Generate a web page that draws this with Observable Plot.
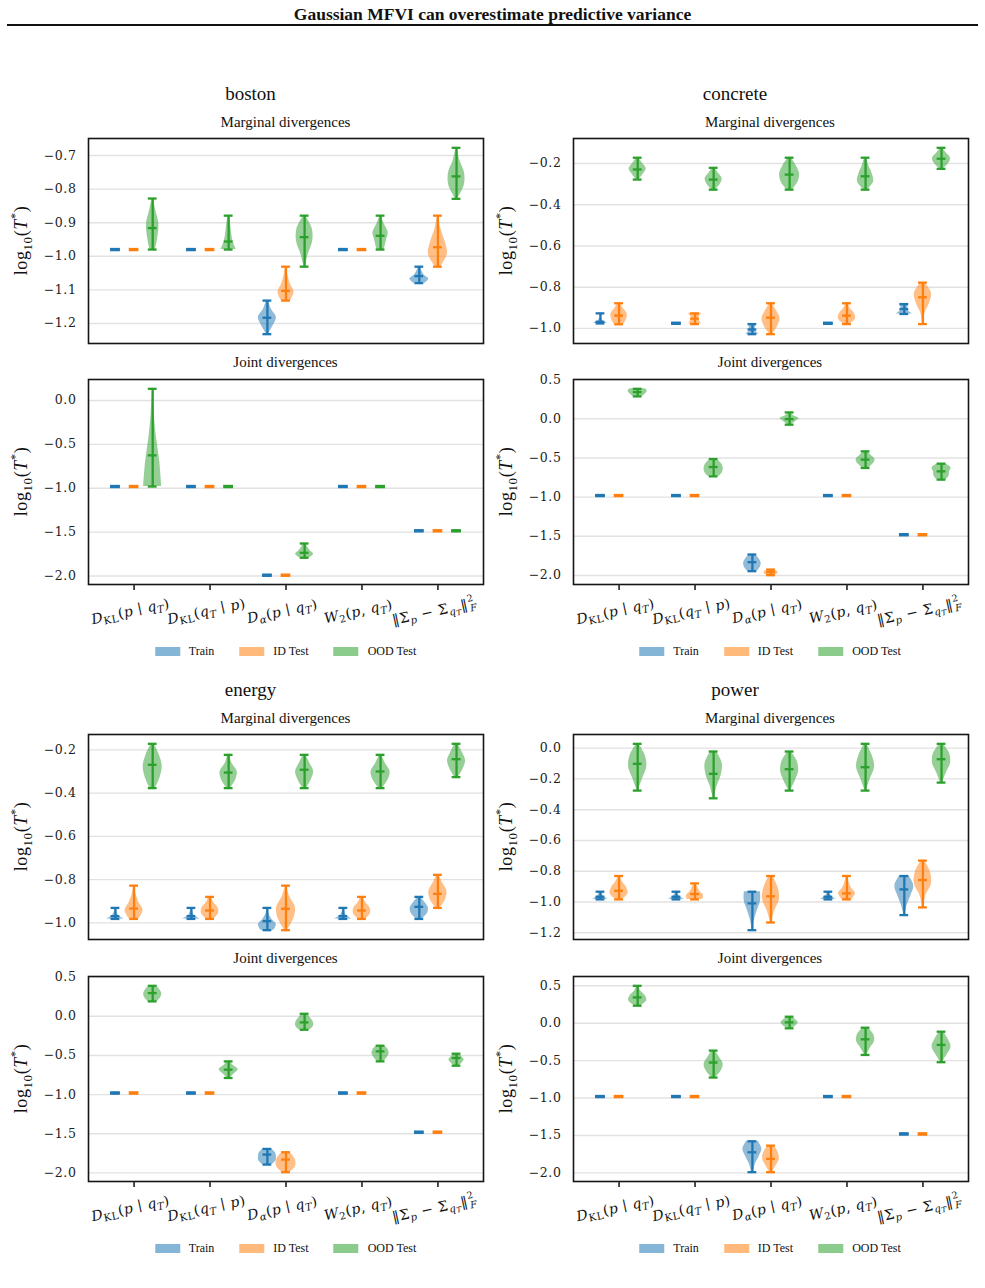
<!DOCTYPE html>
<html>
<head>
<meta charset="utf-8">
<script src="https://cdn.jsdelivr.net/npm/d3@7"></script>
<script src="https://cdn.jsdelivr.net/npm/@observablehq/plot@0.6"></script>
<style>
  html, body { margin: 0; padding: 0; background: #fff; }
  body { width: 985px; height: 1288px; position: relative; overflow: hidden; font-family: "Liberation Serif", "Times New Roman", serif; color: #111; }
  .abs { position: absolute; white-space: nowrap; }
  #title { left: 0; width: 985px; top: 4px; text-align: center; font-weight: bold; font-size: 17.5px; }
  #rule { left: 7px; width: 971px; top: 24px; height: 2px; background: #111; }
  .dsname { font-size: 19px; transform: translateX(-50%); }
  .sub { font-size: 15px; transform: translateX(-50%); }
  .legend { display: flex; align-items: center; transform: translateX(-50%); font-size: 12px; }
  .legend .sw { width: 25px; height: 9px; margin-right: 9px; }
  .legend .lab { margin-right: 25px; }
  .legend .lab:last-child { margin-right: 0; }
  svg { overflow: visible; }
</style>
</head>
<body>
<div class="abs" id="title">Gaussian MFVI can overestimate predictive variance</div>
<div class="abs" id="rule"></div>
<script>
// Datasets, divergence measures and data splits
const datasets = ["boston", "concrete", "energy", "power"];
const splits = ["Train", "ID Test", "OOD Test"];
const splitColors = ["#1f77b4", "#ff7f0e", "#2ca02c"];

// x tick labels as [text, style] runs: "" upright, "i" italic, "sub"/"subsub" subscripts, "sup" superscript, "subback" subscript under the superscript
const divergenceLabels = [
  [["D", "i"], ["KL", "sub"], ["(", ""], ["p", "i"], [" ∣ ", ""], ["q", "i"], ["T", "subi"], [")", ""]],
  [["D", "i"], ["KL", "sub"], ["(", ""], ["q", "i"], ["T", "subi"], [" ∣ ", ""], ["p", "i"], [")", ""]],
  [["D", "i"], ["α", "subi"], ["(", ""], ["p", "i"], [" ∣ ", ""], ["q", "i"], ["T", "subi"], [")", ""]],
  [["W", "i"], ["2", "sub"], ["(", ""], ["p", "i"], [", ", ""], ["q", "i"], ["T", "subi"], [")", ""]],
  [["‖Σ", ""], ["p", "subi"], [" − Σ", ""], ["q", "subi"], ["T", "subsub"], ["‖", ""], ["2", "sup"], ["F", "subback"]]
];
const yTitle = [["log", ""], ["10", "sub"], ["(", ""], ["T", "i"], ["*", "sup"], [")", ""]];

// Each row: [min, median, max, density profile from min to max (relative width)]
// Rows are ordered by divergence, then split (Train, ID Test, OOD Test).
const bostonMarginal = [
  [-0.98, -0.98, -0.98, null],
  [-0.98, -0.98, -0.98, null],
  [-0.98, -0.916, -0.828, [0.3, 0.55, 0.65, 0.35, 0.05]],
  [-0.98, -0.98, -0.98, null],
  [-0.98, -0.98, -0.98, null],
  [-0.98, -0.956, -0.879, [0.8, 0.45, 0.3, 0.2, 0.05]],
  [-1.232, -1.183, -1.132, [0.1, 0.6, 0.95, 0.4, 0.1]],
  [-1.132, -1.103, -1.031, [0.5, 0.85, 0.45, 0.2, 0.08]],
  [-1.031, -0.943, -0.879, [0.05, 0.4, 0.85, 0.8, 0.1]],
  [-0.98, -0.98, -0.98, null],
  [-0.98, -0.98, -0.98, null],
  [-0.98, -0.939, -0.879, [0.4, 0.6, 0.8, 0.4, 0.05]],
  [-1.08, -1.059, -1.031, [0.6, 1.0, 0.5, 0.25, 0.1]],
  [-1.031, -0.973, -0.879, [0.3, 1.0, 0.75, 0.3, 0.05]],
  [-0.829, -0.762, -0.677, [0.1, 0.8, 0.85, 0.35, 0.05]]
];
const bostonJoint = [
  [-0.98, -0.98, -0.98, null],
  [-0.98, -0.98, -0.98, null],
  [-0.98, -0.625, 0.133, [0.95, 0.75, 0.4, 0.15, 0.03]],
  [-0.98, -0.98, -0.98, null],
  [-0.98, -0.98, -0.98, null],
  [-0.98, -0.98, -0.98, null],
  [-1.99, -1.99, -1.99, null],
  [-1.99, -1.99, -1.99, null],
  [-1.792, -1.735, -1.629, [0.5, 0.95, 0.6, 0.3, 0.2]],
  [-0.98, -0.98, -0.98, null],
  [-0.98, -0.98, -0.98, null],
  [-0.98, -0.98, -0.98, null],
  [-1.485, -1.485, -1.485, null],
  [-1.485, -1.485, -1.485, null],
  [-1.485, -1.485, -1.485, null]
];
const concreteMarginal = [
  [-0.976, -0.968, -0.927, [0.8, 0.3, 0.1, 0.05, 0.05]],
  [-0.98, -0.938, -0.878, [0.5, 0.8, 0.85, 0.45, 0.1]],
  [-0.278, -0.229, -0.172, [0.15, 0.6, 0.9, 0.5, 0.1]],
  [-0.975, -0.975, -0.975, null],
  [-0.979, -0.953, -0.927, [0.7, 0.5, 0.35, 0.5, 0.7]],
  [-0.327, -0.278, -0.221, [0.2, 0.7, 0.9, 0.5, 0.1]],
  [-1.028, -1.005, -0.979, [0.7, 0.4, 0.3, 0.35, 0.4]],
  [-1.028, -0.948, -0.878, [0.15, 0.7, 0.95, 0.6, 0.1]],
  [-0.327, -0.254, -0.172, [0.3, 0.9, 1.05, 0.7, 0.15]],
  [-0.975, -0.975, -0.975, null],
  [-0.979, -0.938, -0.878, [0.3, 0.9, 0.8, 0.35, 0.1]],
  [-0.327, -0.262, -0.172, [0.2, 0.85, 0.7, 0.35, 0.1]],
  [-0.93, -0.906, -0.882, [0.85, 0.5, 0.35, 0.4, 0.5]],
  [-0.979, -0.849, -0.778, [0.05, 0.2, 0.7, 0.9, 0.2]],
  [-0.226, -0.177, -0.124, [0.2, 0.75, 0.95, 0.5, 0.1]]
];
const concreteJoint = [
  [-0.98, -0.98, -0.98, null],
  [-0.98, -0.98, -0.98, null],
  [0.285, 0.34, 0.382, [0.5, 0.75, 0.95, 1.0, 0.8]],
  [-0.98, -0.98, -0.98, null],
  [-0.98, -0.98, -0.98, null],
  [-0.735, -0.616, -0.514, [0.6, 0.95, 1.0, 0.8, 0.3]],
  [-1.945, -1.83, -1.732, [0.5, 0.85, 0.92, 0.7, 0.3]],
  [-1.996, -1.958, -1.924, [0.4, 0.7, 0.75, 0.6, 0.3]],
  [-0.076, -0.004, 0.081, [0.15, 0.6, 1.0, 0.4, 0.1]],
  [-0.98, -0.98, -0.98, null],
  [-0.98, -0.98, -0.98, null],
  [-0.628, -0.522, -0.416, [0.3, 0.8, 1.0, 0.6, 0.2]],
  [-1.48, -1.48, -1.48, null],
  [-1.48, -1.48, -1.48, null],
  [-0.777, -0.671, -0.573, [0.5, 0.8, 0.85, 1.0, 0.4]]
];
const energyMarginal = [
  [-0.982, -0.969, -0.931, [0.95, 0.4, 0.2, 0.1, 0.05]],
  [-0.982, -0.934, -0.828, [0.5, 0.95, 0.5, 0.2, 0.05]],
  [-0.377, -0.269, -0.172, [0.3, 0.8, 1.0, 0.7, 0.15]],
  [-0.982, -0.969, -0.931, [0.95, 0.4, 0.2, 0.1, 0.05]],
  [-0.982, -0.943, -0.88, [0.4, 0.9, 0.85, 0.4, 0.1]],
  [-0.377, -0.305, -0.223, [0.2, 0.75, 0.9, 0.35, 0.1]],
  [-1.034, -0.992, -0.931, [0.7, 0.95, 0.45, 0.15, 0.05]],
  [-1.034, -0.935, -0.828, [0.15, 0.8, 1.0, 0.4, 0.05]],
  [-0.377, -0.292, -0.223, [0.2, 0.7, 0.95, 0.55, 0.1]],
  [-0.982, -0.969, -0.931, [0.95, 0.4, 0.2, 0.1, 0.05]],
  [-0.982, -0.943, -0.88, [0.4, 0.9, 0.85, 0.4, 0.1]],
  [-0.377, -0.3, -0.223, [0.2, 0.8, 1.0, 0.5, 0.1]],
  [-0.982, -0.926, -0.88, [0.3, 0.85, 0.95, 0.6, 0.1]],
  [-0.931, -0.866, -0.778, [0.2, 0.8, 0.95, 0.5, 0.1]],
  [-0.326, -0.243, -0.172, [0.2, 0.7, 0.95, 0.6, 0.15]]
];
const energyJoint = [
  [-0.98, -0.98, -0.98, null],
  [-0.98, -0.98, -0.98, null],
  [0.19, 0.296, 0.389, [0.5, 0.85, 0.95, 0.75, 0.35]],
  [-0.98, -0.98, -0.98, null],
  [-0.98, -0.98, -0.98, null],
  [-0.788, -0.682, -0.576, [0.15, 0.6, 1.0, 0.5, 0.15]],
  [-1.894, -1.766, -1.694, [0.5, 0.9, 0.95, 0.85, 0.45]],
  [-1.991, -1.83, -1.736, [0.4, 0.95, 1.05, 0.85, 0.4]],
  [-0.172, -0.078, 0.032, [0.6, 0.95, 0.9, 0.6, 0.3]],
  [-0.98, -0.98, -0.98, null],
  [-0.98, -0.98, -0.98, null],
  [-0.576, -0.448, -0.376, [0.35, 0.7, 0.9, 0.8, 0.4]],
  [-1.48, -1.48, -1.48, null],
  [-1.48, -1.48, -1.48, null],
  [-0.631, -0.533, -0.478, [0.25, 0.6, 0.8, 0.55, 0.25]]
];
const powerMarginal = [
  [-0.983, -0.966, -0.933, [0.8, 0.5, 0.3, 0.15, 0.1]],
  [-0.983, -0.927, -0.831, [0.4, 0.95, 0.8, 0.35, 0.05]],
  [-0.276, -0.102, 0.028, [0.05, 0.5, 0.95, 0.8, 0.1]],
  [-0.983, -0.966, -0.933, [0.8, 0.5, 0.3, 0.15, 0.1]],
  [-0.983, -0.948, -0.879, [0.8, 0.9, 0.5, 0.3, 0.1]],
  [-0.326, -0.167, -0.022, [0.05, 0.35, 0.8, 0.9, 0.3]],
  [-1.183, -1.009, -0.933, [0.03, 0.2, 0.5, 0.85, 0.85]],
  [-1.133, -0.963, -0.831, [0.05, 0.4, 0.9, 0.75, 0.2]],
  [-0.276, -0.137, -0.022, [0.1, 0.6, 0.95, 0.8, 0.15]],
  [-0.983, -0.966, -0.933, [0.8, 0.5, 0.3, 0.15, 0.1]],
  [-0.983, -0.944, -0.831, [0.5, 0.9, 0.45, 0.2, 0.05]],
  [-0.276, -0.124, 0.028, [0.05, 0.5, 0.95, 0.7, 0.1]],
  [-1.085, -0.918, -0.831, [0.05, 0.3, 0.7, 1.0, 0.5]],
  [-1.035, -0.857, -0.731, [0.05, 0.3, 0.9, 0.8, 0.15]],
  [-0.224, -0.072, 0.028, [0.1, 0.5, 0.95, 0.85, 0.15]]
];
const powerJoint = [
  [-0.98, -0.98, -0.98, null],
  [-0.98, -0.98, -0.98, null],
  [0.234, 0.345, 0.5, [0.3, 0.95, 0.8, 0.3, 0.1]],
  [-0.98, -0.98, -0.98, null],
  [-0.98, -0.98, -0.98, null],
  [-0.726, -0.526, -0.366, [0.2, 0.8, 1.0, 0.6, 0.15]],
  [-1.991, -1.725, -1.578, [0.1, 0.3, 0.7, 1.0, 0.6]],
  [-1.991, -1.814, -1.636, [0.15, 0.55, 0.88, 0.75, 0.3]],
  [-0.068, 0.012, 0.087, [0.2, 0.7, 0.9, 0.6, 0.2]],
  [-0.98, -0.98, -0.98, null],
  [-0.98, -0.98, -0.98, null],
  [-0.424, -0.215, -0.06, [0.1, 0.5, 0.95, 0.85, 0.25]],
  [-1.48, -1.48, -1.48, null],
  [-1.48, -1.48, -1.48, null],
  [-0.521, -0.29, -0.113, [0.1, 0.6, 1.0, 0.7, 0.2]]
];

const panels = [
  {name: datasets[0], marginal: bostonMarginal, joint: bostonJoint, ticks: 6},
  {name: datasets[1], marginal: concreteMarginal, joint: concreteJoint, ticks: 5},
  {name: datasets[2], marginal: energyMarginal, joint: energyJoint, ticks: 5},
  {name: datasets[3], marginal: powerMarginal, joint: powerJoint, ticks: 7}
];

// Layout
const W = 395, H = 205;
const ML = 90, MR = 12, MT = 10, MB = 10;
const DODGE = 0.245, HALF = 0.125, CAP = 0.058;
const colLeft = [88, 572.5];
const rowShift = [0, 596.5];

// Math-like text: each run shifts relative to the baseline, in px of the base size
function addRuns(text, runs, fs) {
  const styles = {
    "": [0, 1, null], "i": [0, 1, "italic"],
    "sub": [0.28, 0.72, null], "subi": [0.28, 0.72, "italic"],
    "subsub": [0.45, 0.55, "italic"],
    "sup": [-0.42, 0.68, null], "subback": [0.3, 0.68, "italic"]
  };
  let cur = 0;
  for (const [s, kind] of runs) {
    const [off, scale, style] = styles[kind];
    const t = text.append("tspan").text(s)
      .attr("dy", ((off - cur) * fs).toFixed(2) + "px")
      .attr("font-size", (scale * fs).toFixed(2) + "px");
    if (style) t.attr("font-style", style);
    if (kind === "subback") t.attr("dx", (-0.36 * fs).toFixed(2) + "px");
    cur = off;
  }
}

function subplot(rows, tickCount, withX) {
  const items = rows.map(([min, med, max, prof], i) => ({
    split: i % 3, min, med, max, prof,
    cx: Math.floor(i / 3) + (i % 3 - 1) * DODGE
  }));
  const [lo, hi] = d3.extent(items.flatMap(d => [d.min, d.max]));
  const pad = (hi - lo) * 0.05;
  const marks = [Plot.gridY({ticks: tickCount, stroke: "#e2e2e2", strokeOpacity: 1, strokeWidth: 1.4})];
  splitColors.forEach((color, s) => {
    const body = items.filter(d => d.split === s && d.prof).flatMap((d, k) =>
      d.prof.map((w, j) => ({
        k,
        y: d.min + (d.max - d.min) * j / (d.prof.length - 1),
        x1: d.cx - w * HALF,
        x2: d.cx + w * HALF
      })));
    marks.push(Plot.areaX(body, {y: "y", x1: "x1", x2: "x2", z: "k", fill: color, fillOpacity: 0.5, curve: "catmull-rom"}));
  });
  splitColors.forEach((color, s) => {
    const its = items.filter(d => d.split === s);
    const flat = its.filter(d => d.min === d.max);
    marks.push(Plot.ruleX(its, {x: "cx", y1: "min", y2: "max", stroke: color, strokeWidth: 2.3}));
    for (const key of ["min", "max", "med"]) {
      marks.push(Plot.ruleY(its, {y: key, x1: d => d.cx - CAP, x2: d => d.cx + CAP, stroke: color, strokeWidth: 2.3}));
    }
    // collapsed violins: all three lines coincide into one bar
    marks.push(Plot.ruleY(flat, {y: "min", x1: d => d.cx - CAP * 1.1, x2: d => d.cx + CAP * 1.1, stroke: color, strokeWidth: 3.4}));
  });
  marks.push(Plot.frame({stroke: "#151515", strokeWidth: 1.6}));
  marks.push(Plot.axisY({ticks: tickCount, tickSize: 0, tickPadding: 12, tickFormat: d3.format(".1f"), label: null, fontSize: 12.5}));
  if (withX) marks.push(Plot.axisX({ticks: d3.range(5), tickSize: 6, tickFormat: () => "", label: null, strokeWidth: 1.6}));
  const svg = Plot.plot({
    width: W + ML + MR, height: H + MT + MB,
    marginLeft: ML, marginRight: MR, marginTop: MT, marginBottom: MB,
    x: {domain: [-0.6, 4.6], ...(withX ? {} : {axis: null})},
    y: {domain: [lo - pad, hi + pad]},
    style: {fontFamily: "'DejaVu Serif', serif", fontSize: "12.5px", color: "#222", background: "transparent", overflow: "visible", letterSpacing: "0.6px"},
    marks
  });
  const root = d3.select(svg);
  // y-axis title: log10(T*)
  const yl = root.append("text")
    .attr("transform", `translate(${ML - 61},${MT + H / 2}) rotate(-90)`)
    .attr("text-anchor", "middle")
    .attr("font-family", "'Liberation Serif', serif")
    .attr("fill", "#111");
  addRuns(yl, yTitle, 18);
  if (withX) {
    const x = svg.scale("x");
    divergenceLabels.forEach((runs, i) => {
      const t = root.append("text")
        .attr("transform", `translate(${x.apply(i) - 3},${MT + H + 28}) rotate(-12)`)
        .attr("text-anchor", "middle")
        .attr("dominant-baseline", "middle")
        .attr("font-family", "'DejaVu Serif', serif")
        .attr("letter-spacing", "0.5px")
        .attr("fill", "#111");
      addRuns(t, runs, 14);
    });
  }
  return svg;
}

function place(el, left, top) {
  el.style.position = "absolute";
  el.style.left = left + "px";
  el.style.top = top + "px";
  document.body.appendChild(el);
}

panels.forEach((p, idx) => {
  const L = colLeft[idx % 2];
  const dy = rowShift[Math.floor(idx / 2)];
  const cx = L + W / 2;

  const name = document.createElement("div");
  name.className = "abs dsname";
  name.textContent = p.name;
  place(name, cx - 35, 82.5 + dy);

  const t1 = document.createElement("div");
  t1.className = "abs sub";
  t1.textContent = "Marginal divergences";
  place(t1, cx, 113.5 + dy);

  const t2 = document.createElement("div");
  t2.className = "abs sub";
  t2.textContent = "Joint divergences";
  place(t2, cx, 353.5 + dy);

  place(subplot(p.marginal, p.ticks, false), L - ML, 137.5 + dy - MT);
  place(subplot(p.joint, 5, true), L - ML, 379 + dy - MT);

  const lg = document.createElement("div");
  lg.className = "abs legend";
  splits.forEach((s, i) => {
    const sw = document.createElement("span");
    sw.className = "sw";
    sw.style.background = splitColors[i];
    sw.style.opacity = 0.55;
    const lab = document.createElement("span");
    lab.className = "lab";
    lab.textContent = s;
    lg.appendChild(sw);
    lg.appendChild(lab);
  });
  place(lg, cx, 644 + dy);
});
</script>
</body>
</html>
